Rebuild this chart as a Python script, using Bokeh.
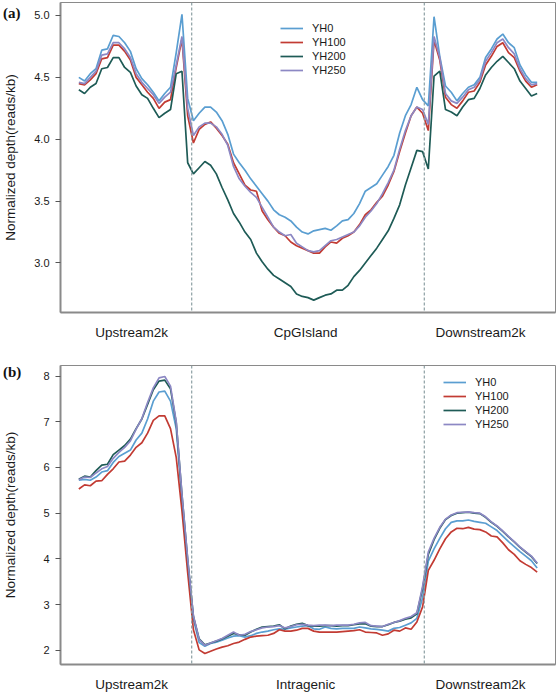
from bokeh.plotting import figure
from bokeh.layouts import column
from bokeh.models import (Span, Legend, LegendItem, FixedTicker, Range1d, Div,
                          PrintfTickFormatter, BasicTickFormatter)
from bokeh.embed import file_html
from bokeh.resources import INLINE

# ---------------- data ----------------
bins = list(range(81))                 # bin index along the meta-region
region_bounds = [19.7, 60.3]           # region boundaries (bin units)
region_tick_pos = [9.2, 39.6, 70.1]
labels_a = ["Upstream2k", "CpGIsland", "Downstream2k"]
labels_b = ["Upstream2k", "Intragenic", "Downstream2k"]
series_names = ["YH0", "YH100", "YH200", "YH250"]
series_colors = ["#5a9ed1", "#c23b33", "#1e5b56", "#8c88c4"]
yticks_a = [3.0, 3.5, 4.0, 4.5, 5.0]
yticks_b = [2, 3, 4, 5, 6, 7, 8]
panel_tags = ["(a)", "(b)"]

a_yh0 = [
    4.50, 4.47, 4.53, 4.57, 4.72, 4.73, 4.84, 4.83, 4.78, 4.71,
    4.57, 4.49, 4.44, 4.38, 4.31, 4.37, 4.42, 4.70, 5.01, 4.33,
    4.15, 4.21, 4.26, 4.26, 4.22, 4.15, 4.04, 3.88, 3.81, 3.75,
    3.68, 3.62, 3.56, 3.50, 3.43, 3.39, 3.37, 3.34, 3.29, 3.25,
    3.235, 3.26, 3.27, 3.28, 3.265, 3.30, 3.34, 3.35, 3.40, 3.48,
    3.58, 3.61, 3.64, 3.71, 3.78, 3.87, 4.05, 4.19, 4.28, 4.42,
    4.32, 4.27, 4.99, 4.67, 4.43, 4.38, 4.31, 4.37, 4.42, 4.44,
    4.50, 4.66, 4.73, 4.81, 4.85, 4.78, 4.74, 4.60, 4.52, 4.46,
    4.46]
a_yh100 = [
    4.45, 4.44, 4.48, 4.53, 4.65, 4.66, 4.76, 4.76, 4.71, 4.64,
    4.50, 4.44, 4.38, 4.33, 4.25, 4.30, 4.32, 4.58, 4.81, 4.19,
    3.97, 4.08, 4.12, 4.14, 4.09, 4.03, 3.96, 3.81, 3.72, 3.63,
    3.59, 3.58, 3.42, 3.35, 3.29, 3.24, 3.22, 3.17, 3.14, 3.12,
    3.10, 3.08, 3.08, 3.13, 3.17, 3.16, 3.20, 3.22, 3.25, 3.31,
    3.39, 3.43, 3.49, 3.54, 3.63, 3.74, 3.90, 4.05, 4.19, 4.26,
    4.21, 4.07, 4.80, 4.64, 4.34, 4.28, 4.25, 4.31, 4.38, 4.39,
    4.46, 4.60, 4.67, 4.75, 4.78, 4.70, 4.66, 4.55, 4.47, 4.42,
    4.44]
a_yh200 = [
    4.40, 4.37, 4.42, 4.45, 4.57, 4.58, 4.66, 4.66, 4.58, 4.54,
    4.43, 4.36, 4.33, 4.25, 4.175, 4.21, 4.24, 4.53, 4.55, 3.81,
    3.72, 3.77, 3.82, 3.79, 3.72, 3.61, 3.51, 3.40, 3.33, 3.25,
    3.19, 3.08, 3.01, 2.95, 2.90, 2.87, 2.84, 2.81, 2.75, 2.73,
    2.72, 2.70, 2.72, 2.74, 2.75, 2.78, 2.78, 2.82, 2.89, 2.94,
    3.00, 3.06, 3.12, 3.19, 3.26, 3.36, 3.47, 3.63, 3.77, 3.91,
    3.90, 3.76, 4.51, 4.55, 4.24, 4.22, 4.19, 4.26, 4.32, 4.33,
    4.41, 4.52, 4.58, 4.63, 4.67, 4.62, 4.57, 4.47, 4.41, 4.35,
    4.37]
a_yh250 = [
    4.46, 4.45, 4.50, 4.55, 4.68, 4.69, 4.78, 4.78, 4.73, 4.66,
    4.53, 4.46, 4.41, 4.36, 4.29, 4.34, 4.38, 4.60, 4.83, 4.25,
    4.03, 4.10, 4.13, 4.13, 4.10, 4.04, 3.95, 3.78, 3.68, 3.62,
    3.57, 3.53, 3.45, 3.37, 3.29, 3.25, 3.22, 3.23, 3.16, 3.13,
    3.10, 3.09, 3.10, 3.14, 3.18, 3.19, 3.21, 3.23, 3.25, 3.30,
    3.37, 3.42, 3.48, 3.56, 3.65, 3.75, 3.92, 4.07, 4.19, 4.26,
    4.24, 4.12, 4.83, 4.66, 4.37, 4.31, 4.29, 4.34, 4.40, 4.42,
    4.48, 4.63, 4.70, 4.78, 4.81, 4.74, 4.69, 4.57, 4.49, 4.44,
    4.45]

b_yh0 = [
    5.72, 5.74, 5.72, 5.79, 5.90, 5.93, 6.11, 6.24, 6.31, 6.38,
    6.60, 6.75, 7.06, 7.45, 7.65, 7.67, 7.45, 6.85, 5.28, 3.90,
    2.68, 2.17, 2.09, 2.15, 2.18, 2.22, 2.27, 2.31, 2.32, 2.29,
    2.32, 2.37, 2.40, 2.42, 2.45, 2.47, 2.46, 2.49, 2.51, 2.53,
    2.54, 2.47, 2.46, 2.51, 2.48, 2.47, 2.48, 2.48, 2.48, 2.51,
    2.49, 2.47, 2.46, 2.44, 2.42, 2.48, 2.50, 2.55, 2.60, 2.70,
    3.15, 3.95, 4.22, 4.45, 4.66, 4.80, 4.83, 4.83, 4.85, 4.82,
    4.80, 4.78, 4.70, 4.62, 4.50, 4.38, 4.27, 4.16, 4.06, 3.96,
    3.80]
b_yh100 = [
    5.53, 5.62, 5.60, 5.70, 5.71, 5.85, 5.97, 6.12, 6.14, 6.27,
    6.44, 6.54, 6.75, 7.03, 7.13, 7.13, 6.85, 6.22, 5.05, 3.70,
    2.45, 2.01, 1.93, 1.98, 2.03, 2.07, 2.10, 2.15, 2.18, 2.24,
    2.29, 2.31, 2.32, 2.33, 2.37, 2.45, 2.42, 2.42, 2.44, 2.48,
    2.48, 2.42, 2.40, 2.40, 2.40, 2.40, 2.41, 2.42, 2.43, 2.45,
    2.40, 2.39, 2.38, 2.33, 2.36, 2.44, 2.42, 2.49, 2.46, 2.62,
    2.95, 3.75, 3.97, 4.22, 4.44, 4.59, 4.67, 4.66, 4.69, 4.65,
    4.64, 4.59, 4.50, 4.48, 4.35, 4.20, 4.10, 3.96, 3.88, 3.81,
    3.71]
b_yh200 = [
    5.74, 5.81, 5.79, 5.93, 6.05, 6.07, 6.28, 6.38, 6.48, 6.62,
    6.85, 7.06, 7.38, 7.70, 7.89, 7.91, 7.72, 6.98, 5.40, 3.98,
    2.74, 2.25, 2.12, 2.16, 2.20, 2.25, 2.31, 2.37, 2.34, 2.33,
    2.40, 2.46, 2.51, 2.52, 2.53, 2.56, 2.47, 2.53, 2.57, 2.59,
    2.54, 2.53, 2.53, 2.54, 2.54, 2.53, 2.54, 2.54, 2.56, 2.58,
    2.58, 2.53, 2.52, 2.52, 2.56, 2.61, 2.64, 2.68, 2.71, 2.80,
    3.35, 4.10, 4.42, 4.67, 4.86, 4.95, 5.00, 5.01, 5.02, 5.00,
    4.99, 4.91, 4.80, 4.71, 4.60, 4.48, 4.37, 4.25, 4.15, 4.05,
    3.90]
b_yh250 = [
    5.73, 5.79, 5.78, 5.88, 5.97, 6.02, 6.20, 6.33, 6.44, 6.58,
    6.84, 7.07, 7.42, 7.74, 7.96, 7.99, 7.78, 7.00, 5.42, 4.00,
    2.75, 2.24, 2.11, 2.16, 2.21, 2.26, 2.33, 2.40, 2.33, 2.35,
    2.41, 2.45, 2.49, 2.51, 2.52, 2.54, 2.49, 2.52, 2.56, 2.57,
    2.55, 2.54, 2.55, 2.55, 2.54, 2.55, 2.55, 2.55, 2.57, 2.60,
    2.61, 2.54, 2.53, 2.52, 2.57, 2.61, 2.65, 2.70, 2.74, 2.82,
    3.40, 4.15, 4.45, 4.69, 4.87, 4.96, 5.01, 5.02, 5.03, 5.01,
    5.00, 4.92, 4.81, 4.72, 4.61, 4.49, 4.38, 4.26, 4.16, 4.06,
    3.91]

# ---------------- styling ----------------
AXIS_GRAY = "#8a8a8a"
TEXT = "#1a1a1a"
SANS = "Liberation Sans"


def make_panel(series, region_labels, y_lo, y_hi, yticks, yfmt, height, b_top,
               b_bottom, frame_h, legend_x, legend_top, ylabel_standoff):
    p = figure(width=556, height=height,
               x_range=Range1d(-3.2, 83.2), y_range=Range1d(y_lo, y_hi),
               output_backend="svg", toolbar_location=None,
               min_border_left=57, min_border_right=1,
               min_border_top=b_top, min_border_bottom=b_bottom)
    p.background_fill_color = "white"
    p.border_fill_color = "white"
    p.outline_line_color = AXIS_GRAY
    p.outline_line_width = 1
    p.grid.visible = False

    for loc in region_bounds:
        p.add_layout(Span(location=loc, dimension="height",
                          line_color="#8c9fa3", line_dash="3 2",
                          line_width=1.2))

    renderers = []
    for vals, col in zip(series, series_colors):
        r = p.line(bins, vals, line_color=col, line_width=1.7)
        renderers.append(r)

    # x axis: region names
    xa = p.xaxis[0]
    xa.ticker = FixedTicker(ticks=region_tick_pos)
    xa.major_label_overrides = {t: s for t, s in zip(region_tick_pos, region_labels)}
    xa.major_tick_line_color = None
    xa.minor_tick_line_color = None
    xa.axis_line_color = AXIS_GRAY
    xa.axis_line_width = 2
    xa.major_label_standoff = 6
    xa.major_label_text_font = SANS
    xa.major_label_text_font_size = "13.5px"
    xa.major_label_text_color = TEXT

    ya = p.yaxis[0]
    ya.ticker = FixedTicker(ticks=yticks)
    ya.formatter = yfmt
    ya.minor_tick_line_color = None
    ya.major_tick_in = 0
    ya.major_tick_out = 5
    ya.major_tick_line_color = "#555555"
    ya.axis_line_color = AXIS_GRAY
    ya.axis_line_width = 2
    ya.major_label_standoff = 6
    ya.major_label_text_font = SANS
    ya.major_label_text_font_size = "11px"
    ya.major_label_text_color = TEXT
    ya.axis_label = "Normalized depth(reads/kb)"
    ya.axis_label_text_font = SANS
    ya.axis_label_text_font_size = "13.5px"
    ya.axis_label_text_font_style = "normal"
    ya.axis_label_text_color = TEXT
    ya.axis_label_standoff = ylabel_standoff

    items = [LegendItem(label=n, renderers=[r]) for n, r in zip(series_names, renderers)]
    leg_h = 14 * len(items)
    legend = Legend(items=items, location=(legend_x, frame_h - legend_top - leg_h),
                    glyph_width=23, glyph_height=14, label_height=14,
                    spacing=0, padding=0, margin=0, label_standoff=9,
                    label_text_font=SANS, label_text_font_size="11px",
                    label_text_color=TEXT,
                    border_line_alpha=0, background_fill_alpha=0)
    p.add_layout(legend)
    return p


def make_tag(text, top):
    return Div(text=text, width=26, height=18,
               styles={"position": "absolute", "left": "3px", "top": f"{top}px",
                       "margin": "0", "padding": "0", "z-index": "10",
                       "font-family": "'Liberation Serif', serif",
                       "font-weight": "bold", "font-size": "15px",
                       "line-height": "18px", "color": "#111111"})


pa = make_panel([a_yh0, a_yh100, a_yh200, a_yh250], labels_a, 2.6, 5.105,
                yticks_a, PrintfTickFormatter(format="%.1f"),
                height=342, b_top=2, b_bottom=30, frame_h=310,
                legend_x=220, legend_top=19, ylabel_standoff=13)
pb = make_panel([b_yh0, b_yh100, b_yh200, b_yh250], labels_b, 1.69, 8.23,
                yticks_b, BasicTickFormatter(),
                height=352, b_top=23, b_bottom=21, frame_h=308,
                legend_x=383, legend_top=19, ylabel_standoff=22)

tag_a = make_tag(panel_tags[0], 4)
tag_b = make_tag(panel_tags[1], 363)

layout = column(pa, pb, tag_a, tag_b, spacing=0)
open("out.html", "w").write(file_html(layout, INLINE))
